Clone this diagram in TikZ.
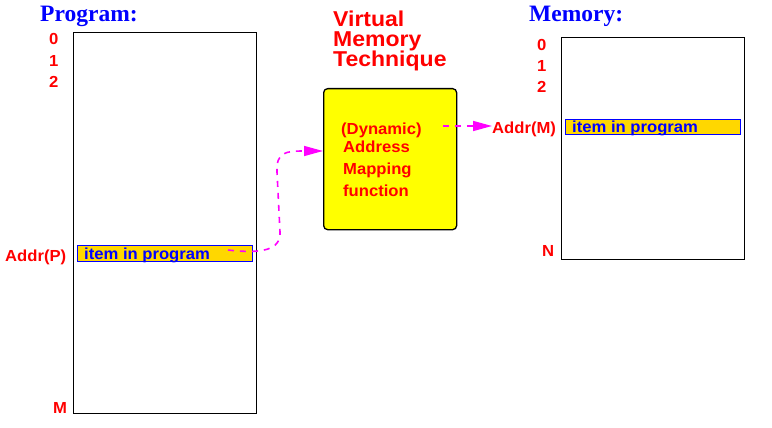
\documentclass[tikz,border=0pt]{standalone}
\usepackage{fontspec}
\setmainfont{Liberation Sans}
\newfontfamily\serifb{Liberation Serif}
\newfontfamily\lblfont{Liberation Sans}[FakeStretch=1.04]
\newfontfamily\ttlfont{Liberation Sans}[FakeStretch=1.07]
\usetikzlibrary{arrows.meta,calc}
\definecolor{gold}{RGB}{255,215,0}
\definecolor{yel}{RGB}{255,255,0}
\definecolor{mag}{RGB}{255,0,255}
\begin{document}
\begin{tikzpicture}[x=1pt,y=-1pt,
  heading/.style={anchor=base west, inner sep=0, text=blue, font=\serifb\bfseries\fontsize{23.5}{24}\selectfont},
  lbl/.style={anchor=base west, inner sep=0, text=red, font=\lblfont\bfseries\fontsize{16}{18}\selectfont},
  ttl/.style={anchor=base west, inner sep=0, text=red, font=\ttlfont\bfseries\fontsize{21.5}{22}\selectfont},
  membox/.style={draw, line width=1.3pt, inner sep=0, anchor=north west},
  itembox/.style={draw=blue, fill=gold, line width=1.2pt, inner sep=0, anchor=north west},
  itemtxt/.style={anchor=base west, inner sep=0, text=blue, font=\lblfont\bfseries\fontsize{16}{18}\selectfont},
  vmbox/.style={draw, fill=yel, line width=1.3pt, rounded corners=4pt, inner sep=0, anchor=north west},
  flow/.style={draw=mag, line width=1.6pt, dash pattern=on 6pt off 6pt, -{Triangle[length=19pt,width=10pt]}}
]
\useasboundingbox (0,0) rectangle (772,428);

% Program side
\node[heading] (progt) at (40,22) {Program:};
\node[membox, minimum width=183pt, minimum height=381pt] (prog) at (73,32) {};
\node[lbl] (p0) at (49,45) {0};
\node[lbl] (p1) at (49,67) {1};
\node[lbl] (p2) at (49,88) {2};
\node[lbl] (pM) at (53,413) {M};
\node[lbl] (addrP) at (5,261) {Addr(P)};
\node[itembox, minimum width=175pt, minimum height=16pt] (itemP) at (77,245) {};
\node[itemtxt] (itemPt) at (84,259.5) {item in program};

% Memory side
\node[heading] (memt) at (529,22) {Memory:};
\node[membox, minimum width=183pt, minimum height=222pt] (mem) at (561,37) {};
\node[lbl] (m0) at (537,51) {0};
\node[lbl] (m1) at (537,72) {1};
\node[lbl] (m2) at (537,93) {2};
\node[lbl] (mN) at (542,256) {N};
\node[lbl] (addrM) at (492,134) {Addr(M)};
\node[itembox, minimum width=175pt, minimum height=15pt] (itemM) at (565,119) {};
\node[itemtxt] (itemMt) at (572,132.7) {item in program};

% Middle
\node[ttl] (t1) at (333,27) {Virtual};
\node[ttl] (t2) at (333,47) {Memory};
\node[ttl] (t3) at (333,67) {Technique};
\node[vmbox, minimum width=133pt, minimum height=141pt] (vmt) at (323,88) {};
\node[lbl] (b1) at (341,135) {(Dynamic)};
\node[lbl] (b2) at (343,153) {Address};
\node[lbl] (b3) at (343,175) {Mapping};
\node[lbl] (b4) at (343,196) {function};

% Connectors
\coordinate (s1) at (228,250);
\coordinate (s2) at (443,126);
\draw[flow] (s1) .. controls (262,254) and (281,250) .. (280,232)
  -- (277,172) .. controls (276,152) and (286,151) .. ($(vmt.north west)+(0,63)$);
\draw[flow] (s2) -- ($(addrM.base west)+(0,-8)$);
\end{tikzpicture}
\end{document}
